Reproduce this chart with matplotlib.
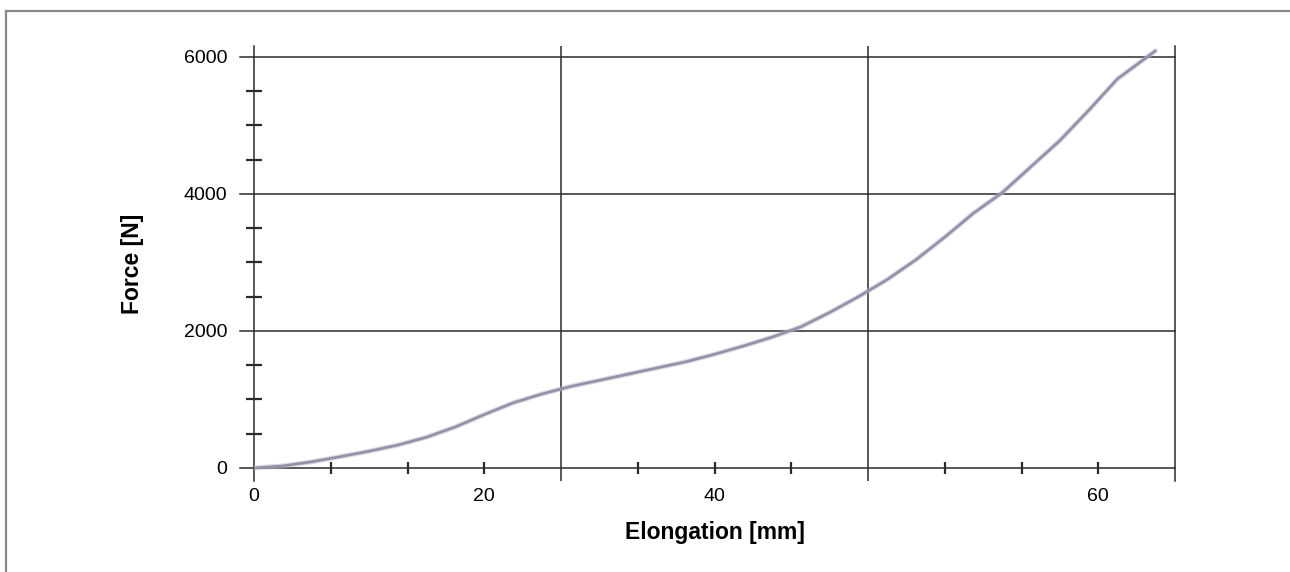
import numpy as np
import matplotlib
matplotlib.use("Agg")
import matplotlib.pyplot as plt
from matplotlib.lines import Line2D

plt.rcParams['font.family'] = ['Liberation Sans', 'DejaVu Sans']

# Force / elongation curve
elongation = [0, 2.5, 5, 7.5, 10, 12.5, 15, 17.5, 20, 22.5, 25, 27.5, 30, 32.5,
              35, 37.5, 40, 42.5, 45, 47.5, 50, 52.5, 55, 57.5, 60, 62.5, 65,
              67.5, 70, 72.5, 75, 77.5, 78.3]
force = [0, 30, 90, 165, 245, 335, 450, 600, 780, 950, 1080, 1190, 1280, 1370,
         1460, 1550, 1660, 1780, 1910, 2060, 2270, 2500, 2750, 3040, 3370, 3720, 4020,
         4400, 4780, 5220, 5680, 5990, 6090]

x_label_pos = [0, 20, 40, 220 / 3]
x_labels = ["0", "20", "40", "60"]
y_major = [0, 2000, 4000, 6000]
y_minor = [500, 1000, 1500, 2500, 3000, 3500, 4500, 5000, 5500]
x_step = 20 / 3
x_grid = [4 * x_step, 8 * x_step]
x_minor = [k * x_step for k in range(1, 12) if k % 4 != 0]

W, H = 1290, 572
fig = plt.figure(figsize=(W / 100, H / 100), dpi=100)
ax = fig.add_axes([254 / W, 1 - 481 / H, (1175 - 254) / W, (481 - 46) / H])
ax.set_xlim(0, 80)
ax.set_ylim(-190, 6160)

line_c = "#2b2b2b"
for s in ["top", "bottom"]:
    ax.spines[s].set_visible(False)
for s in ["left", "right"]:
    ax.spines[s].set_color(line_c)
    ax.spines[s].set_linewidth(1.1)

# grid
for yv in y_major:
    ax.plot([-14 / 11.5, 80], [yv, yv], color=line_c, lw=1.1, clip_on=False, zorder=1)
for xv in x_grid:
    ax.axvline(xv, color=line_c, lw=1.1, zorder=1)

# small crossing ticks
ax.plot(x_minor, [0] * len(x_minor), ls="none", marker="|", ms=8, mew=1.6,
        color=line_c, clip_on=False, zorder=2)
ax.plot([0] * len(y_minor), y_minor, ls="none", marker="_", ms=11.5, mew=1.6,
        color=line_c, clip_on=False, zorder=2)

# soft halo + core to mimic the scanned curve
ax.plot(elongation, force, color="#b8b6c8", lw=3.6, alpha=0.5,
        solid_capstyle="round", solid_joinstyle="round", zorder=3)
ax.plot(elongation, force, color="#9391a8", lw=1.9,
        solid_capstyle="round", solid_joinstyle="round", zorder=4)

ax.set_xticks(x_label_pos, x_labels)
ax.set_yticks(y_major, [str(v) for v in y_major])
ax.tick_params(axis="x", length=0, pad=5, labelsize=14)
ax.tick_params(axis="y", length=0, pad=19, labelsize=14)

ax.text(0.5, -0.1195, "Elongation [mm]", transform=ax.transAxes, ha="center",
        va="center", fontsize=16.5, fontweight="bold")
ax.text(-0.1314, 0.5, "Force [N]", transform=ax.transAxes, ha="center",
        va="center", rotation=90, fontsize=16.5, fontweight="bold")

# outer frame (top and left only visible in the crop)
fig.add_artist(Line2D([6 / W, 1], [1 - 11 / H, 1 - 11 / H], color="#8a8a8a", lw=1.6,
                      transform=fig.transFigure))
fig.add_artist(Line2D([6 / W, 6 / W], [0, 1 - 11 / H], color="#8a8a8a", lw=1.6,
                      transform=fig.transFigure))

fig.savefig("out.png", dpi=100)
